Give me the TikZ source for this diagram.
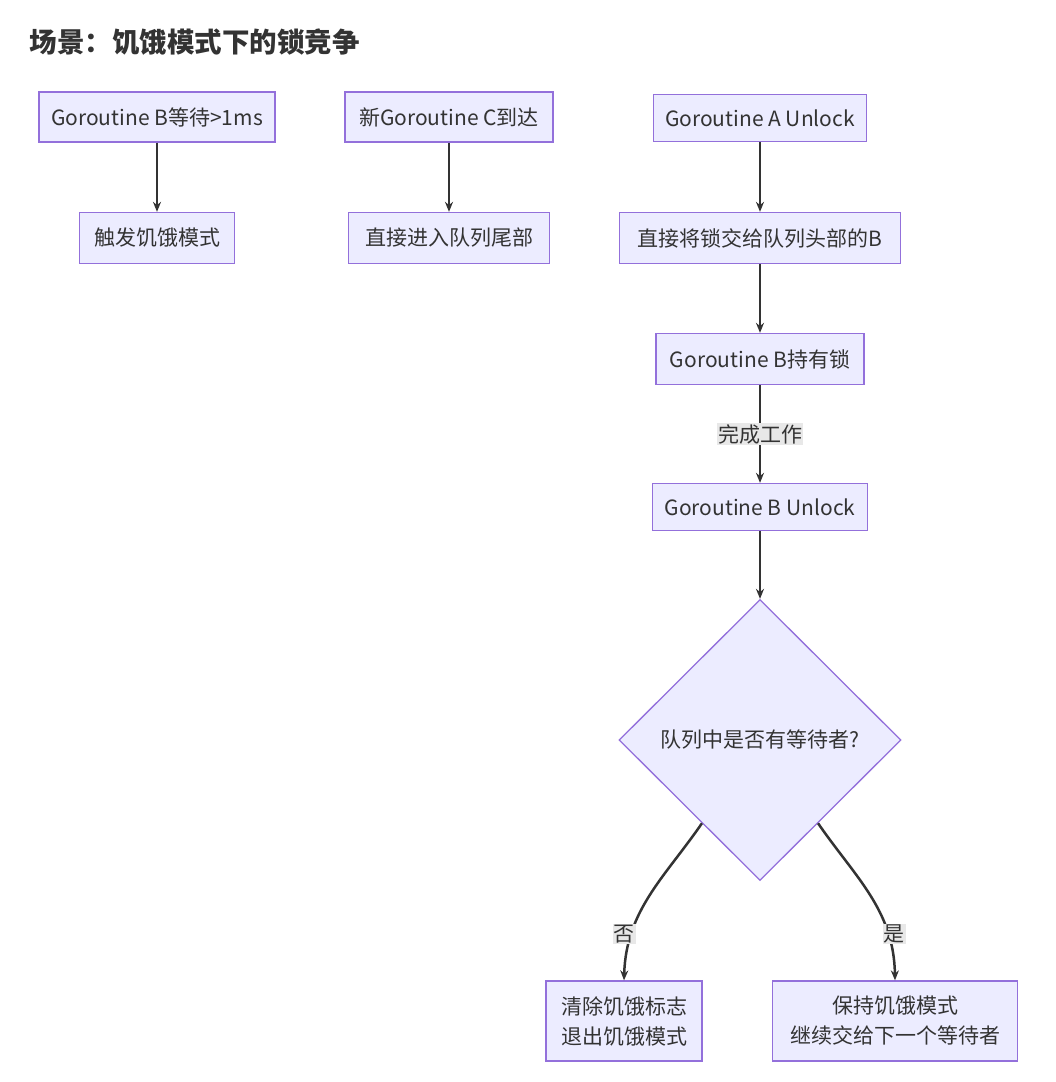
\documentclass[tikz,border=0pt]{standalone}
\usepackage{fontspec}
\setmainfont{Noto Sans CJK SC}
\usetikzlibrary{shapes.geometric,arrows.meta,calc}
\definecolor{boxfill}{HTML}{ECECFF}
\definecolor{boxline}{HTML}{9370DB}
\definecolor{ink}{HTML}{333333}
\definecolor{lblbg}{HTML}{E8E8E8}
\begin{document}
\begin{tikzpicture}[x=1pt,y=-1pt,
  box/.style={draw=boxline,fill=boxfill,line width=1.3pt,inner sep=0pt,text=ink,
    font=\fontsize{21}{30}\selectfont,align=center},
  dec/.style={box,shape=diamond,aspect=1,minimum width=282pt,minimum height=281pt},
  conn/.style={draw=ink,line width=2.5pt,-{Stealth[length=10pt,width=8pt]}},
  lbl/.style={fill=lblbg,text=ink,inner sep=1pt,font=\fontsize{21}{24}\selectfont}]
\useasboundingbox (0,0) rectangle (1056,1082);
\fill[white] (0,0) rectangle (1056,1082);
\node[anchor=west,text=ink,font=\fontsize{27.5}{32}\selectfont\bfseries] (title) at (26,42) {场景：饥饿模式下的锁竞争};
\node[box,minimum width=236pt,minimum height=50pt] (b1) at (157,117) {Goroutine B等待>1ms};
\node[box,minimum width=155pt,minimum height=51pt] (b2) at (157,238) {触发饥饿模式};
\node[box,minimum width=208pt,minimum height=50pt] (c1) at (449,117) {新Goroutine C到达};
\node[box,minimum width=201pt,minimum height=51pt] (c2) at (449,238) {直接进入队列尾部};
\node[box,minimum width=213pt,minimum height=47pt] (a1) at (760,118) {Goroutine A Unlock};
\node[box,minimum width=281pt,minimum height=51pt] (a2) at (760,238) {直接将锁交给队列头部的B};
\node[box,minimum width=208pt,minimum height=51pt] (a3) at (760,359) {Goroutine B持有锁};
\node[box,minimum width=215pt,minimum height=47pt] (a4) at (760,507) {Goroutine B Unlock};
\node[dec] (dia) at (760,740) {队列中是否有等待者?};
\node[box,minimum width=156pt,minimum height=80pt] (no) at (624,1021) {清除饥饿标志\\退出饥饿模式};
\node[box,minimum width=245pt,minimum height=80pt] (yes) at (895,1021) {保持饥饿模式\\继续交给下一个等待者};
\draw[conn] (b1) -- (b2);
\draw[conn] (c1) -- (c2);
\draw[conn] (a1) -- (a2);
\draw[conn] (a2) -- (a3);
\draw[conn] (a3) -- node[lbl] (lw) {完成工作} (a4);
\draw[conn] (a4) -- (dia.north);
\coordinate (dl) at ($(dia.west)!0.59!(dia.south)$);
\coordinate (dr) at ($(dia.east)!0.59!(dia.south)$);
\draw[conn] (dl) .. controls (665,877) and (626,910) .. (no.north);
\draw[conn] (dr) .. controls (855,877) and (894,910) .. (yes.north);
\node[lbl] (lno) at (624,934) {否};
\node[lbl] (lyes) at (894,934) {是};
\end{tikzpicture}
\end{document}
